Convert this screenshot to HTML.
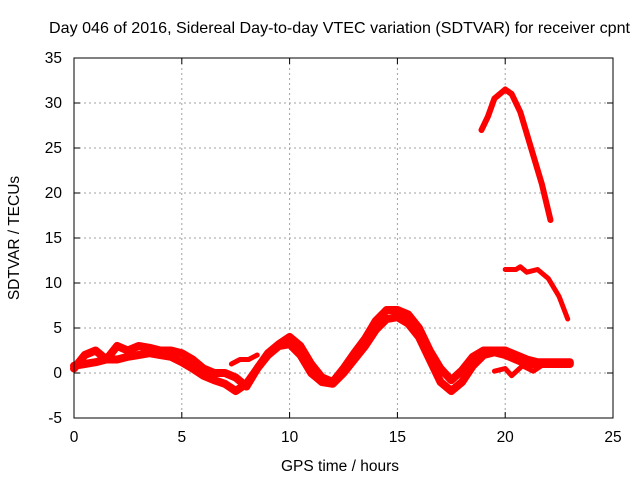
<!DOCTYPE html>
<html><head><meta charset="utf-8"><style>
body{margin:0;background:#fff;}
svg text{font-family:"Liberation Sans",sans-serif;font-size:15.5px;fill:#000;}
</style></head><body>
<svg id="chart" width="640" height="480" xmlns="http://www.w3.org/2000/svg">
<rect width="640" height="480" fill="#fff"/>
<text x="49" y="33" textLength="581" lengthAdjust="spacingAndGlyphs" style="font-size:16px">Day 046 of 2016, Sidereal Day-to-day VTEC variation (SDTVAR) for receiver cpnt</text>
<text x="340" y="471" text-anchor="middle">GPS time / hours</text>
<text transform="translate(19,238) rotate(-90)" text-anchor="middle">SDTVAR / TECUs</text>
<g id="grid"></g><g id="series"></g><g id="axes"></g>
</svg>
<script>
const xTicks=[0,5,10,15,20,25];
const yTicks=[-5,0,5,10,15,20,25,30,35];
const hoursA=[0,0.5,1,1.5,2,2.5,3,3.5,4,4.5,5,5.5,6,6.5,7,7.5,8,8.5,9,9.5,10,10.5,11,11.5,12,12.5,13,13.5,14,14.5,15,15.5,16,16.5,17,17.5,18,18.5,19,19.5,20,20.5,21,21.5,22,22.5,23];
const valuesA=[0.8,1,1.2,1.5,1.5,1.8,2,2.2,2,1.8,1.2,0.5,-0.3,-0.8,-1.2,-2,-1.2,0.5,2,3,3.2,2,0,-1,-1.2,0,1.5,3,4.8,6,6.2,5.5,4,1.5,-1,-2,-1,0.8,2,2.3,2,1.5,1,1,1,1,1];
const valuesB=[0.5,2,2.5,1.5,3,2.5,3,2.8,2.5,2.5,2.2,1.5,0.5,0,0,-0.5,-1.5,0.5,2.2,3.2,4,3,1,-0.5,-1,0.5,2.2,3.8,5.8,7,7,6.5,5,2.5,0.5,-0.8,0.3,1.8,2.5,2.5,2.5,2,1.5,1.2,1.2,1.2,1.2];
const hoursC=[7.3,7.7,8.1,8.5];
const valuesC=[1,1.5,1.5,2];
const hoursD=[19.5,20,20.3,20.8,21.3,21.8,22.4,23];
const valuesD=[0.2,0.5,-0.3,0.8,0.2,1,1.2,1.3];
const hoursE=[18.9,19.2,19.5,20,20.3,20.7,21.2,21.7,22.1];
const valuesE=[27,28.5,30.5,31.5,31,29,25,21,17];
const hoursF=[20,20.5,20.7,21,21.5,22,22.5,22.9];
const valuesF=[11.5,11.5,11.8,11.2,11.5,10.5,8.5,6];
const X0=74,X1=613,Y0=418,Y1=58;
const xs=v=>X0+(v-0)/(25-0)*(X1-X0);
const ys=v=>Y0-(v+5)/(40)*(Y0-Y1);
const NS="http://www.w3.org/2000/svg";
function mk(t,a,p){const e=document.createElementNS(NS,t);for(const k in a)e.setAttribute(k,a[k]);p.appendChild(e);return e;}
const grid=document.getElementById('grid'),axes=document.getElementById('axes'),ser=document.getElementById('series');
xTicks.forEach(t=>{
 const g=mk('line',{x1:xs(t),x2:xs(t),y1:Y1,y2:Y0,stroke:'#a0a0a0','stroke-dasharray':'2,3'},grid);
 
 
 const l=mk('text',{x:xs(t),y:Y0+24,'text-anchor':'middle'},axes);l.textContent=t;
 
 
 mk('line',{x1:xs(t),x2:xs(t),y1:Y0,y2:Y0-6,stroke:'#000'},axes);
 mk('line',{x1:xs(t),x2:xs(t),y1:Y1,y2:Y1+6,stroke:'#000'},axes);
});
yTicks.forEach(t=>{
 const g=mk('line',{x1:X0,x2:X1,y1:ys(t),y2:ys(t),stroke:'#a0a0a0','stroke-dasharray':'2,3'},grid);
 
 
 const l=mk('text',{x:X0-12,y:ys(t)+5,'text-anchor':'end'},axes);l.textContent=t;
 
 
 mk('line',{x1:X0,x2:X0+6,y1:ys(t),y2:ys(t),stroke:'#000'},axes);
 mk('line',{x1:X1,x2:X1-6,y1:ys(t),y2:ys(t),stroke:'#000'},axes);
});
const fr=mk('rect',{x:X0,y:Y1,width:X1-X0,height:Y0-Y1,fill:'none',stroke:'#000'},axes);


function line(h,v,name,w){
 const p=mk('polyline',{points:h.map((x,i)=>xs(x)+','+ys(v[i])).join(' '),fill:'none',stroke:'#f00','stroke-width':w,'stroke-linejoin':'round','stroke-linecap':'round'},ser);
 
 
}
line(hoursA,valuesA,'series-a',8);
line(hoursA,valuesB,'series-b',8);
line(hoursC,valuesC,'series-c',5);
line(hoursD,valuesD,'series-d',5);
line(hoursE,valuesE,'series-e',6);
line(hoursF,valuesF,'series-f',5);
</script>
</body></html>
